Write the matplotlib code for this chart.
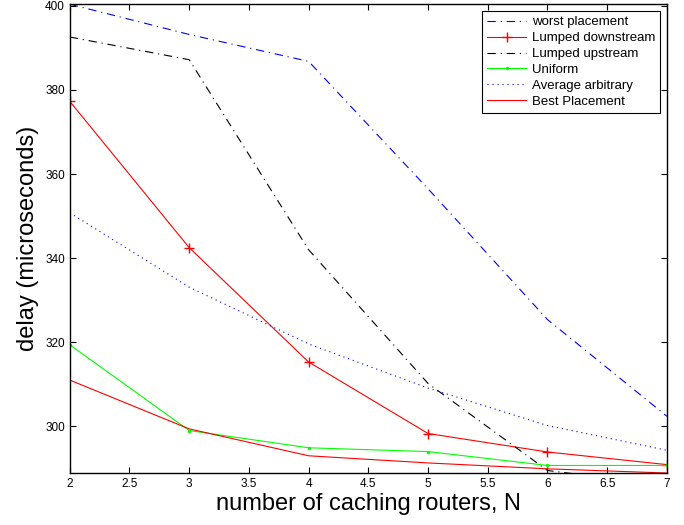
import numpy as np
import matplotlib.pyplot as plt

plt.rcParams['font.family'] = ['Liberation Sans', 'DejaVu Sans']
plt.rcParams['lines.scale_dashes'] = False

N = [2, 3, 4, 5, 6, 7]
worst = [400.4, 393.2, 386.8, 356.5, 325.4, 302.4]
lumped_down = [377.3, 342.5, 315.3, 298.3, 293.9, 290.9]
lumped_up = [392.6, 387.2, 342.0, 310.2, 289.5, 286.0]
uniform = [319.4, 299.0, 294.9, 294.0, 290.7, 290.7]
avg_arb = [350.8, 333.1, 319.6, 309.1, 300.2, 294.3]
best = [311.0, 299.4, 293.0, 291.3, 289.9, 288.9]

dashdot = (0, (6, 3.5, 0.8, 3.5))
dotted = (0, (0.8, 2.8))

fig = plt.figure(figsize=(6.84, 5.25), dpi=100)
ax = fig.add_axes([0.102, 0.099, 0.873, 0.893])

ax.plot(N, worst, color=(0, 0, 1), ls=dashdot, lw=0.8, label='worst placement')
ax.plot(N, lumped_down, '-', color=(1, 0, 0), lw=0.8, marker='+', ms=7, label='Lumped downstream')
ax.plot(N, lumped_up, color='k', ls=dashdot, lw=0.8, label='Lumped upstream')
ax.plot(N, uniform, '-', color=(0, 1, 0), lw=0.8, marker='.', ms=3, label='Uniform')
ax.plot(N, avg_arb, color=(0, 0, 1), ls=dotted, lw=0.8, label='Average arbitrary')
ax.plot(N, best, '-', color=(1, 0, 0), lw=0.8, label='Best Placement')

ax.set_xlim(2, 7)
ax.set_ylim(288.9, 400.4)
ax.set_xticks(np.arange(2, 7.01, 0.5))
ax.set_xticklabels(['2', '2.5', '3', '3.5', '4', '4.5', '5', '5.5', '6', '6.5', '7'])
ax.set_yticks([300, 320, 340, 360, 380, 400])
ax.tick_params(direction='in', top=True, right=True, length=4, labelsize=8.5)
for s in ax.spines.values():
    s.set_linewidth(1.0)

ax.set_xlabel('number of caching routers, N', fontsize=17, labelpad=2)
ax.set_ylabel('delay (microseconds)', fontsize=17, labelpad=4)

leg = ax.legend(loc='upper right', fontsize=9.5, fancybox=False, framealpha=1,
                edgecolor='k', handlelength=3.0, borderaxespad=0.5,
                labelspacing=0.28, handletextpad=0.4)
leg.get_frame().set_linewidth(0.8)

fig.savefig('out.png', dpi=100)
